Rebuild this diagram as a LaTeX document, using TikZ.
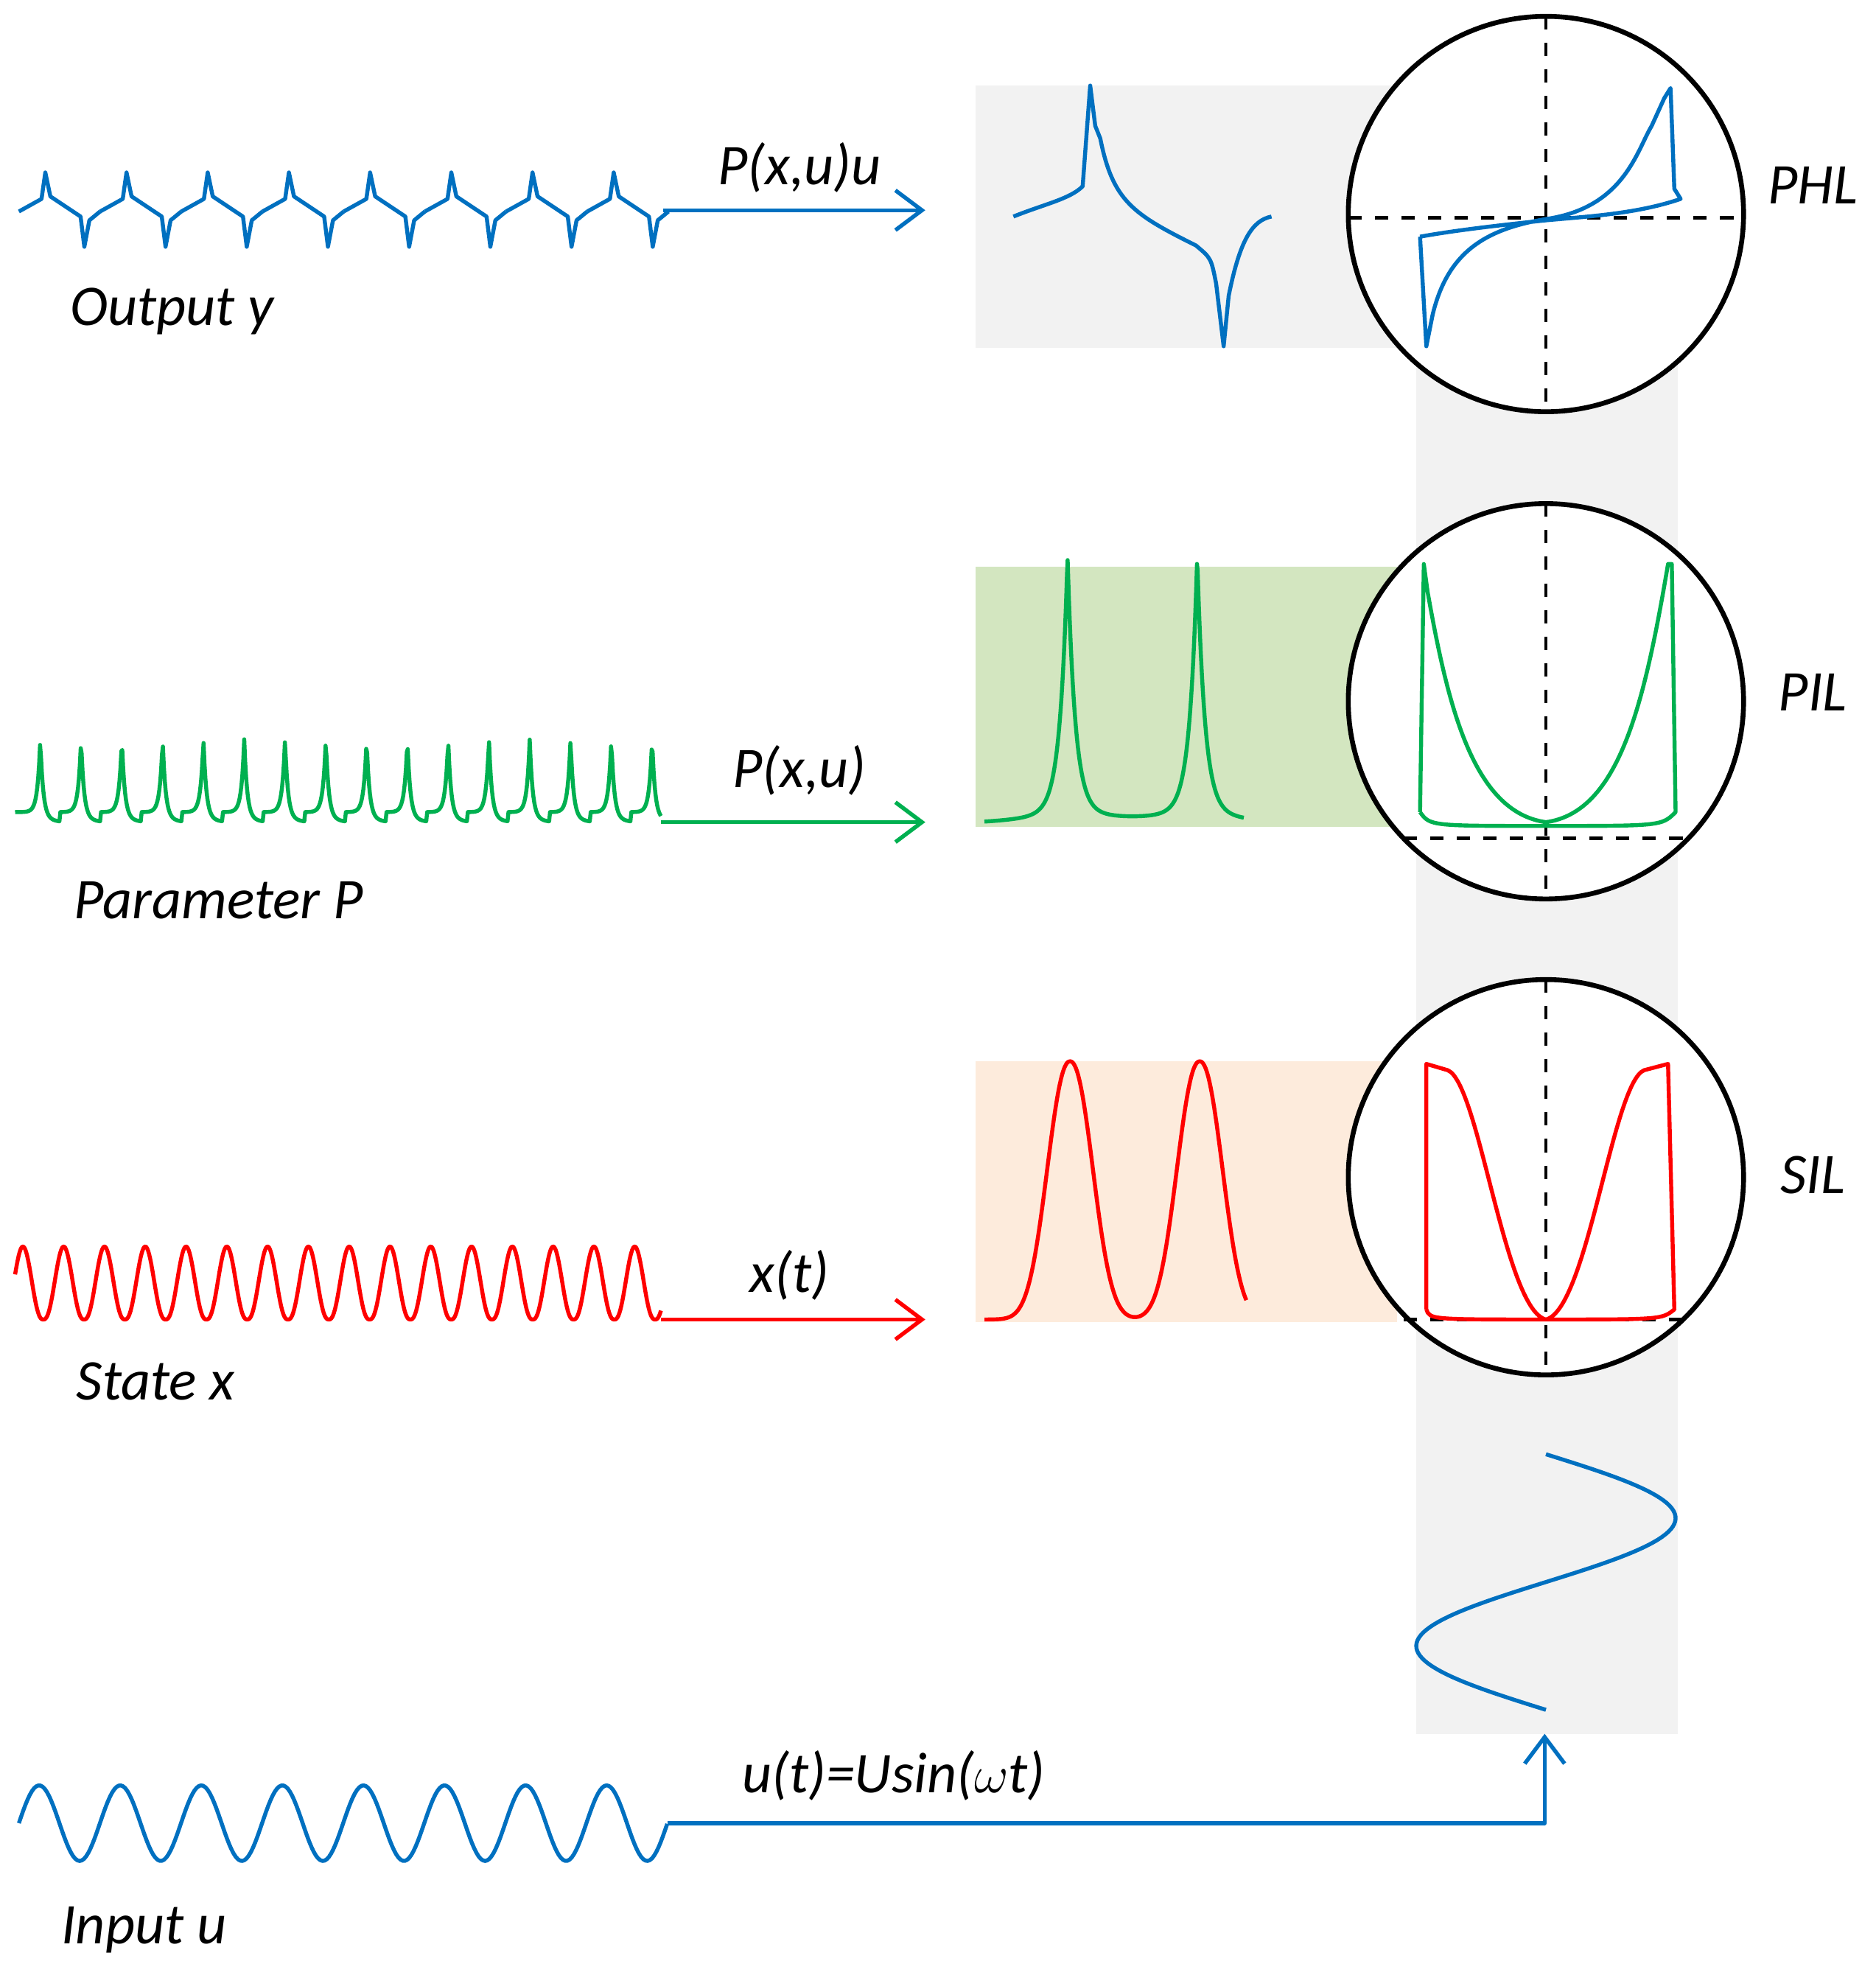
\documentclass[tikz,border=0pt]{standalone}
\usepackage{fontspec}
\setmainfont{Carlito}
\usetikzlibrary{arrows.meta}
\definecolor{sigblue}{RGB}{0,112,192}
\definecolor{siggreen}{RGB}{0,176,80}
\definecolor{sigred}{RGB}{255,0,0}
\definecolor{bandgray}{RGB}{242,242,242}
\definecolor{bandgreen}{RGB}{211,230,192}
\definecolor{bandorange}{RGB}{253,235,220}
\tikzset{
  sig/.style={line width=0.9pt, line join=round},
  lbl/.style={font=\fontsize{13}{15}\selectfont\itshape, inner sep=0pt},
  ring/.style={line width=1.1pt},
  axis/.style={line width=0.8pt, dashed},
  arr/.style={sig, -{Straight Barb[length=6pt,width=9pt]}}
}
\begin{document}
\begin{tikzpicture}[x=0.01cm,y=-0.01cm]
    \useasboundingbox (0,0) rectangle (1490,1571);
    % backgrounds
    \fill[bandgray] (1125,280) rectangle (1333,1377);
    \fill[bandgray] (775,68) rectangle (1110,276);
    \fill[bandgreen] (775,450) rectangle (1110,657);
    \fill[bandorange] (775,843) rectangle (1110,1050);
    % circles
    \fill[white] (1228,170) circle (157);
    \fill[white] (1228,557) circle (157);
    \fill[white] (1228,935) circle (157);
    \draw[axis] (1228,13) -- (1228,327);
    \draw[axis] (1071,173) -- (1385,173);
    \draw[axis] (1228,400) -- (1228,714);
    \draw[axis] (1115,666) -- (1341,666);
    \draw[axis] (1228,778) -- (1228,1092);
    \draw[axis] (1115,1048) -- (1341,1048);
    \draw[ring] (1228,170) circle (157);
    \draw[ring] (1228,557) circle (157);
    \draw[ring] (1228,935) circle (157);
    \node[lbl] (phl) at (1440,147) {PHL};
    \node[lbl] (pil) at (1440,550) {PIL};
    \node[lbl] (sil) at (1440,933) {SIL};
    % output y
    \foreach \k in {0,...,7} {
      \pgfmathsetmacro{\a}{15+64.5*\k}
      \draw[sig, sigblue] (\a,168) -- (\a+18,158) -- (\a+21,137) -- (\a+25,156)
        -- (\a+49,172) -- (\a+52,196) -- (\a+56,175) -- (\a+64.5,168);
    }
    \coordinate (ys) at (527,167);
    \coordinate (ye) at (735,167);
    \draw[arr, sigblue] (ys) -- (ye);
    \node[lbl] (yl) at (635,133) {P(x,u)u};
    \node[lbl, anchor=west] (yn) at (55,247) {Output y};
    % parameter P
    \draw[sig, siggreen] plot[domain=12:525, samples=700]
      (\x, {653-58*exp(-abs(mod(\x-15,32.4)-17)/2.2)-8*exp(-max(mod(\x-15,32.4)-17,0)/6)});
    \coordinate (ps) at (525,653);
    \coordinate (pe) at (735,653);
    \draw[arr, siggreen] (ps) -- (pe);
    \node[lbl] (pl) at (635,612) {P(x,u)};
    \node[lbl, anchor=west] (pn) at (58,715) {Parameter P};
    % state x
    \draw[sig, sigred] plot[domain=12:525, samples=700]
      (\x, {1048-58*pow(max(abs(sin(180*((\x-2)/32.4))),0.01),2.5)});
    \coordinate (xs) at (525,1048);
    \coordinate (xe) at (735,1048);
    \draw[arr, sigred] (xs) -- (xe);
    \node[lbl] (xl) at (627,1013) {x(t)};
    \node[lbl, anchor=west] (xn) at (60,1097) {State x};
    % input u
    \draw[sig, sigblue] plot[domain=15:530, samples=300]
      (\x, {1448-30*sin(360*((\x-15)/64.4))});
    \coordinate (us) at (530,1448);
    \coordinate (uc) at (1227,1448);
    \coordinate (ue) at (1227,1377);
    \draw[arr, sigblue] (us) -- (uc) -- (ue);
    \node[lbl] (ul) at (710,1410) {u(t)=Usin($\omega$t)};
    \node[lbl, anchor=west] (un) at (48,1533) {Input u};
    % vertical input
    \draw[sig, sigblue] plot[domain=1155:1358, samples=100]
      ({1228+103*sin(360*((\x-1155)/203))}, \x);
    % panels
    \draw[sig, sigblue] (805,172) .. controls (830,162) and (850,158) .. (860,148)
      -- (866,68) -- (870,100) -- (874,110) .. controls (884,160) and (900,170) .. (950,195)
      .. controls (962,205) .. (966,225) -- (972,275) -- (976,235)
      .. controls (985,190) and (995,175) .. (1010,172);
    \draw[sig, siggreen] plot[domain=782:988, samples=400]
      (\x, {655-200*exp(-abs(\x-848)/6)-200*exp(-abs(\x-951)/6)-12*exp(-abs(\x-848)/40)-12*exp(-abs(\x-951)/40)});
    \draw[sig, sigred] plot[domain=782:990, samples=400]
      (\x, {1048-205*exp(-min(pow(max(abs(\x-850),0.1)/24,2.2),30))-205*exp(-min(pow(max(abs(\x-953),0.1)/24,2.2),30))});
    % loops
    \draw[sig, sigblue] (1128,188) -- (1133,275) -- (1138,250)
      .. controls (1150,200) and (1180,182) .. (1228,174)
      .. controls (1290,165) and (1300,120) .. (1312,100) -- (1322,78) -- (1327,70)
      -- (1330,150) -- (1335,158) .. controls (1300,170) and (1260,172) .. (1228,175)
      .. controls (1180,180) and (1150,184) .. (1128,188);
    \draw[sig, siggreen] (1128,645) -- (1131,448) -- (1134,470)
      .. controls (1150,560) and (1170,645) .. (1228,653)
      .. controls (1286,645) and (1306,560) .. (1325,448) -- (1328,448) -- (1331,645)
      .. controls (1320,656) .. (1228,656) .. controls (1136,656) .. (1128,645);
    \draw[sig, sigred] (1133,1040) -- (1133,845) -- (1150,850)
      .. controls (1175,860) and (1195,1040) .. (1228,1048)
      .. controls (1261,1040) and (1281,860) .. (1306,850) -- (1325,845) -- (1330,1040)
      .. controls (1320,1048) .. (1228,1048) .. controls (1136,1048) .. (1133,1040);
\end{tikzpicture}
\end{document}
